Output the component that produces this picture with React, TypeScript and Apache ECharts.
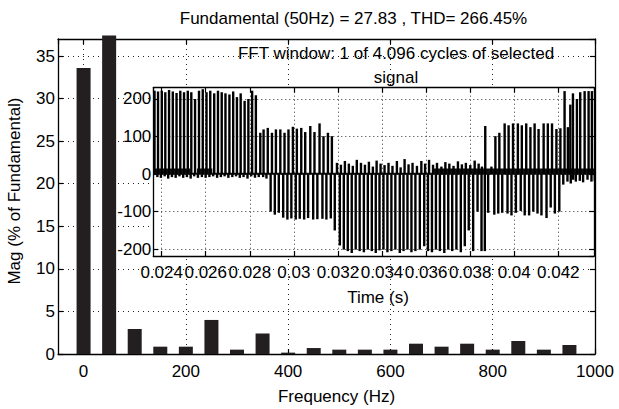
import React, { useEffect, useRef } from 'react';
import * as echarts from 'echarts';

// ---- Main FFT bar data ----
const harmonicFreqs = [0, 50, 100, 150, 200, 250, 300, 350, 400, 450, 500, 550, 600, 650, 700, 750, 800, 850, 900, 950];
const harmonicMags = [33.6, 37.4, 2.94, 0.86, 0.86, 4.0, 0.51, 2.42, 0.16, 0.7, 0.51, 0.51, 0.51, 1.21, 0.86, 1.21, 0.51, 1.53, 0.51, 1.06];

const titleText = 'Fundamental (50Hz) = 27.83 , THD= 266.45%';
const yLabelText = 'Mag (% of Fundamental)';
const xLabelText = 'Frequency (Hz)';
const insetTitle1 = 'FFT window: 1 of 4.096 cycles of selected';
const insetTitle2 = 'signal';
const insetXLabel = 'Time (s)';

// ---- Inset signal: switching instants (ms) and pulse peaks ----
const pulseTimesMs = [
  23.74, 23.90, 24.07, 24.23, 24.40, 24.57, 24.74, 24.91, 25.08, 25.25, 25.41, 25.58, 25.76, 25.93,
  26.10, 26.27, 26.45, 26.62, 26.79, 26.96, 27.14, 27.31, 27.48, 27.65, 27.83, 28.00, 28.17, 28.34,
  28.54, 28.69, 28.88, 29.07, 29.25, 29.45, 29.64, 29.82, 30.02, 30.20, 30.40, 30.58, 30.81, 31.00,
  31.23, 31.41, 31.61, 31.79,
  32.02, 32.20, 32.38, 32.56, 32.74, 32.92, 33.11, 33.29, 33.47, 33.65, 33.82, 34.00, 34.18, 34.36,
  34.54, 34.74, 34.91, 35.09, 35.27, 35.45, 35.65, 35.85, 36.02, 36.20, 36.38, 36.56, 36.76, 36.94,
  37.12, 37.31, 37.51, 37.69, 37.87, 38.07, 38.27, 38.45,
  38.60, 38.75, 39.03, 39.21, 39.39, 39.63, 39.81, 40.01, 40.23, 40.41, 40.61, 40.80, 40.99, 41.17,
  41.40, 41.59, 41.78, 41.98, 42.16, 42.35, 42.50, 42.61, 42.73, 42.91, 43.06, 43.26, 43.44, 43.59,
];
const positivePeaks = [
  222, 220, 222, 218, 224, 220, 216, 222, 218, 222, 218, 200, 222, 226,
  218, 222, 215, 222, 218, 215, 212, 220, 205, 215, 195, 200, 222, 210,
  110, 119, 123, 110, 119, 119, 110, 119, 126, 121, 123, 112, 128, 112,
  135, 101, 110, 101,
  30, 25, 35, 28, 22, 38, 30, 25, 33, 20, 36, 28, 24, 30,
  22, 35, 18, 40, 26, 30, 22, 35, 28, 38, 25, 30, 20, 32,
  28, 22, 34, 26, 30, 24, 36, 28,
  20, 128, 20, 101, 110, 135, 130, 135, 135, 130, 135, 125, 135, 120,
  135, 135, 135, 120, 122, 221, 125, 185, 215, 200, 218, 221, 221, 221,
];
const negativePeaks = [
  -8, -10, -6, -12, -8, -10, -6, -10, -8, -12, -6, -10, -8, -10,
  -8, -6, -10, -8, -6, -10, -8, -6, -10, -8, -12, -6, -10, -8,
  -8, -12, -100, -108, -103, -116, -121, -118, -121, -119, -121, -117, -121, -120,
  -119, -121, -118, -150,
  -190, -201, -205, -210, -201, -205, -208, -201, -205, -210, -203, -201, -208, -205,
  -201, -210, -205, -201, -208, -205, -201, -192, -205, -208, -201, -205, -210, -201,
  -205, -201, -208, -192, -150, -205, -100, -205,
  -205, -103, -108, -105, -103, -105, -110, -103, -98, -110, -110, -100, -105, -110,
  -117, -89, -105, -100, -28, -20, -25, -15, -20, -18, -22, -15, -20, -18,
];
// thick baseline noise bands [startMs, endMs]
const bandSpans = [[23.62, 25.3], [25.6, 26.3], [36.3, 43.62]];

const FONT = 'Liberation Sans, Arial, Helvetica, sans-serif';
const FS = 17;

export default function App() {
  const ref = useRef<HTMLDivElement>(null);
  useEffect(() => {
    if (!ref.current) return;
    const chart = echarts.init(ref.current, undefined, { renderer: 'svg' });

    const dotted = (c: string, d: number[]) => ({ show: true, lineStyle: { color: c, width: 1, type: d } });
    const axisLine = { show: true, onZero: false, lineStyle: { color: '#000', width: 1.3 } };
    const tick = { show: true, inside: true, length: 5, lineStyle: { color: '#000', width: 1.2 } };
    const lbl = (margin: number, extra: any = {}) => ({
      show: true, color: '#000', fontSize: FS, fontFamily: FONT, margin, lineHeight: FS, ...extra,
    });

    const mainX = { min: -50, max: 1000, splitNumber: 5 };
    const mainY = { min: 0, max: 37, interval: 5 };
    const insX = { min: 23.62, max: 43.62, splitNumber: 10 };
    const insY = { min: -218, max: 230, splitNumber: 5 };
    const msFmt = (v: number) => String(+(v / 1000).toFixed(3));
    const plainFmt = (v: number) => String(v);

    const bandSeries = bandSpans.map((s) => ({
      type: 'line', xAxisIndex: 2, yAxisIndex: 2, z: 7, symbol: 'none',
      data: [[s[0], 7.5], [s[1], 7.5]],
      lineStyle: { color: '#111', width: 5.5 },
    }));

    chart.setOption({
      animation: false,
      backgroundColor: '#fff',
      textStyle: { fontFamily: FONT },
      grid: [
        { left: 58, top: 39, width: 537, height: 315, show: false, z: 0 },
        { left: 153.3, top: 87.7, width: 440.7, height: 168.3, show: true, backgroundColor: '#fff', borderWidth: 0, z: 5 },
      ],
      xAxis: [
        { type: 'value', gridIndex: 0, position: 'bottom', ...mainX, z: 1, axisLine, axisTick: tick,
          axisLabel: lbl(9, { showMinLabel: false, formatter: plainFmt }), splitLine: dotted('#222', [1, 4]) },
        { type: 'value', gridIndex: 0, position: 'top', ...mainX, z: 1, axisLine, axisTick: tick,
          axisLabel: { show: false }, splitLine: { show: false } },
        { type: 'value', gridIndex: 1, position: 'bottom', ...insX, z: 6, axisLine, axisTick: tick,
          axisLabel: lbl(8, { showMinLabel: false, showMaxLabel: false, formatter: msFmt }), splitLine: dotted('#333', [1, 3]) },
        { type: 'value', gridIndex: 1, position: 'top', ...insX, z: 6, axisLine, axisTick: tick,
          axisLabel: { show: false }, splitLine: { show: false } },
      ],
      yAxis: [
        { type: 'value', gridIndex: 0, position: 'left', ...mainY, z: 1, axisLine, axisTick: tick,
          axisLabel: lbl(3, { showMaxLabel: false }), splitLine: dotted('#222', [1, 4]) },
        { type: 'value', gridIndex: 0, position: 'right', ...mainY, z: 1, axisLine, axisTick: tick,
          axisLabel: { show: false }, splitLine: { show: false } },
        { type: 'value', gridIndex: 1, position: 'left', ...insY, z: 6, axisLine, axisTick: tick,
          axisLabel: lbl(2, { showMinLabel: false, showMaxLabel: false }), splitLine: dotted('#333', [1, 3]) },
        { type: 'value', gridIndex: 1, position: 'right', ...insY, z: 6, axisLine, axisTick: tick,
          axisLabel: { show: false }, splitLine: { show: false } },
      ],
      series: [
        {
          type: 'bar', xAxisIndex: 0, yAxisIndex: 0, z: 2, clip: false, barWidth: 14,
          data: harmonicFreqs.map((f, i) => [f, harmonicMags[i]]),
          itemStyle: { color: '#231f20' },
        },
        {
          type: 'line', xAxisIndex: 2, yAxisIndex: 2, z: 7, symbol: 'none',
          data: [[23.62, 1], [43.62, 1]],
          lineStyle: { color: '#111', width: 1.8 },
        },
        ...bandSeries,
        {
          type: 'bar', xAxisIndex: 2, yAxisIndex: 2, z: 8, barWidth: 2.4, barGap: '20%',
          data: pulseTimesMs.map((t, i) => [t, positivePeaks[i]]),
          itemStyle: { color: '#000' },
        },
        {
          type: 'bar', xAxisIndex: 2, yAxisIndex: 2, z: 8, barWidth: 2.4, barGap: '20%',
          data: pulseTimesMs.map((t, i) => [t, negativePeaks[i]]),
          itemStyle: { color: '#000' },
        },
      ],
      graphic: [
        { type: 'text', x: 353.5, y: 18, z: 20, style: { text: titleText, fontSize: FS, fontFamily: FONT, fill: '#000', align: 'center', verticalAlign: 'middle' } },
        { type: 'text', x: 14.5, y: 191, rotation: Math.PI / 2, z: 20, style: { text: yLabelText, fontSize: FS, fontFamily: FONT, fill: '#000', align: 'center', verticalAlign: 'middle' } },
        { type: 'text', x: 336.5, y: 396, z: 20, style: { text: xLabelText, fontSize: FS, fontFamily: FONT, fill: '#000', align: 'center', verticalAlign: 'middle' } },
        { type: 'text', x: 396, y: 53, z: 20, style: { text: insetTitle1, fontSize: FS, fontFamily: FONT, fill: '#000', align: 'center', verticalAlign: 'middle' } },
        { type: 'text', x: 396, y: 77, z: 20, style: { text: insetTitle2, fontSize: FS, fontFamily: FONT, fill: '#000', align: 'center', verticalAlign: 'middle' } },
        { type: 'text', x: 378, y: 297, z: 20, style: { text: insetXLabel, fontSize: FS, fontFamily: FONT, fill: '#000', align: 'center', verticalAlign: 'middle' } },
      ],
    });
    return () => chart.dispose();
  }, []);
  return <div ref={ref} style={{ position: 'fixed', left: 0, top: 0, width: 619, height: 409 }} />;
}
